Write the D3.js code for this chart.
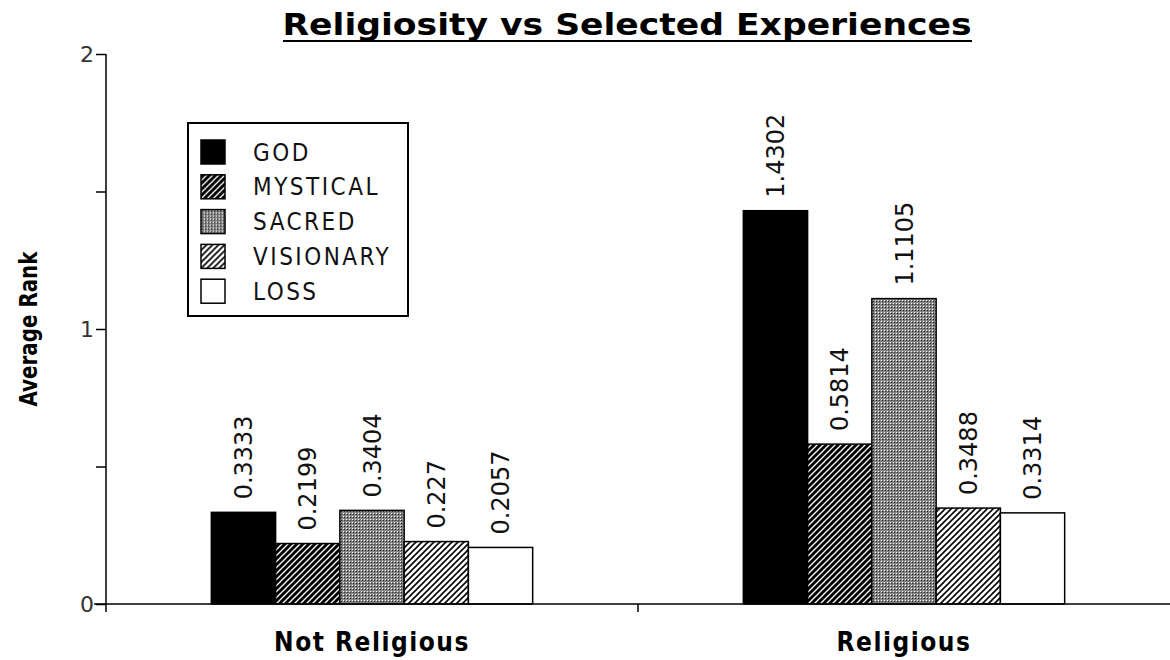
<!DOCTYPE html>
<html>
<head>
<meta charset="utf-8">
<script src="https://cdn.jsdelivr.net/npm/d3@7"></script>
<style>
  html, body { margin: 0; padding: 0; background: #fff; }
  svg { display: block; font-family: "DejaVu Sans", sans-serif; }
  .cond { font-family: "DejaVu Sans Condensed", "DejaVu Sans", sans-serif; font-stretch: condensed; }
</style>
</head>
<body>
<div id="chart"></div>
<script>
// chart data
const groups = ['Not Religious', 'Religious'];
const experiences = ['GOD', 'MYSTICAL', 'SACRED', 'VISIONARY', 'LOSS'];
const notReligious = [0.3333, 0.2199, 0.3404, 0.227, 0.2057];
const religious = [1.4302, 0.5814, 1.1105, 0.3488, 0.3314];
const yTicks = [0, 0.5, 1, 1.5, 2];
const yLabels = [0, 1, 2];

const seriesByGroup = { 'Not Religious': notReligious, 'Religious': religious };

const width = 1170, height = 660;
const svg = d3.select('#chart').append('svg')
    .attr('width', width)
    .attr('height', height);

// fill patterns, roughly like the old mac ones
const defs = svg.append('defs');

const pMyst = defs.append('pattern')
    .attr('id', 'pat-mystical')
    .attr('patternUnits', 'userSpaceOnUse')
    .attr('width', 6).attr('height', 6);
pMyst.append('rect').attr('width', 6).attr('height', 6).attr('fill', '#000');
pMyst.append('path').attr('d', 'M-1,7 L7,-1 M-4,4 L4,-4 M2,10 L10,2')
    .attr('stroke', '#fff').attr('stroke-width', 1.3);

const pSac = defs.append('pattern')
    .attr('id', 'pat-sacred')
    .attr('patternUnits', 'userSpaceOnUse')
    .attr('width', 3).attr('height', 3);
pSac.append('rect').attr('width', 3).attr('height', 3).attr('fill', '#858585');
pSac.append('rect').attr('x', 0).attr('y', 0).attr('width', 1).attr('height', 1).attr('fill', '#fff');
pSac.append('rect').attr('x', 1).attr('y', 1).attr('width', 1).attr('height', 1).attr('fill', '#222');

const pVis = defs.append('pattern')
    .attr('id', 'pat-visionary')
    .attr('patternUnits', 'userSpaceOnUse')
    .attr('width', 6).attr('height', 6);
pVis.append('rect').attr('width', 6).attr('height', 6).attr('fill', '#fff');
pVis.append('path').attr('d', 'M-1,7 L7,-1 M-4,4 L4,-4 M2,10 L10,2')
    .attr('stroke', '#000').attr('stroke-width', 1.6);

const fills = {
    GOD: '#000',
    MYSTICAL: 'url(#pat-mystical)',
    SACRED: 'url(#pat-sacred)',
    VISIONARY: 'url(#pat-visionary)',
    LOSS: '#fff'
};

// scales
const x0 = d3.scaleBand().domain(groups).range([106, 1170]).padding(0);
const bw = x0.bandwidth();
const x1 = d3.scaleBand().domain(experiences).range([bw * 0.198, bw * 0.802]).padding(0);
const y = d3.scaleLinear().domain([0, 2]).range([604, 54]);

// title
svg.append('text')
    .attr('x', 627)
    .attr('y', 35)
    .attr('text-anchor', 'middle')
    .style('font-size', '31px')
    .attr('font-weight', 'bold')
    .attr('textLength', 689)
    .attr('lengthAdjust', 'spacingAndGlyphs')
    .text('Religiosity vs Selected Experiences');
svg.append('line')
    .attr('x1', 283).attr('x2', 972)
    .attr('y1', 41).attr('y2', 41)
    .attr('stroke', '#000').attr('stroke-width', 2);

// bars
const gBars = svg.append('g');
const groupSel = gBars.selectAll('g')
    .data(groups)
    .enter().append('g')
    .attr('transform', d => `translate(${x0(d)},0)`);

const barData = g => experiences.map((k, i) => ({ key: k, value: seriesByGroup[g][i] }));

groupSel.selectAll('rect')
    .data(barData)
    .enter().append('rect')
    .attr('x', d => x1(d.key))
    .attr('y', d => y(d.value))
    .attr('width', x1.bandwidth())
    .attr('height', d => y(0) - y(d.value))
    .attr('fill', d => fills[d.key])
    .attr('stroke', '#000')
    .attr('stroke-width', 1.5);

groupSel.selectAll('text.val')
    .data(barData)
    .enter().append('text')
    .attr('class', 'val')
    .attr('transform', d => `translate(${x1(d.key) + x1.bandwidth() / 2},${y(d.value) - 13}) rotate(-90)`)
    .attr('dy', '0.36em')
    .style('font-size', '24px')
    .attr('fill', '#111')
    .text(d => String(d.value));

// y axis
const yAxis = d3.axisLeft(y)
    .tickValues(yTicks)
    .tickSize(10)
    .tickPadding(2)
    .tickFormat(d => yLabels.includes(d) ? d3.format('d')(d) : '');

const gy = svg.append('g')
    .attr('transform', 'translate(106,0)')
    .call(yAxis)
    .attr('font-size', 22)
    .attr('font-family', '"DejaVu Sans", sans-serif');
gy.select('.domain').remove();
gy.selectAll('.tick line').attr('stroke', '#000').attr('stroke-width', 1.5);
gy.selectAll('.tick text').attr('fill', '#333');
svg.append('line')
    .attr('x1', 106).attr('x2', 106)
    .attr('y1', y(2)).attr('y2', y(0) + 8)
    .attr('stroke', '#000').attr('stroke-width', 1.5);

// x axis
svg.append('line')
    .attr('x1', 94).attr('x2', 1170)
    .attr('y1', y(0)).attr('y2', y(0))
    .attr('stroke', '#000').attr('stroke-width', 1.5);
svg.append('line')
    .attr('x1', x0('Religious')).attr('x2', x0('Religious'))
    .attr('y1', y(0)).attr('y2', y(0) + 8)
    .attr('stroke', '#000').attr('stroke-width', 1.5);

svg.append('g').selectAll('text')
    .data(groups)
    .enter().append('text')
    .attr('class', 'cond')
    .attr('x', d => x0(d) + bw / 2)
    .attr('y', 651)
    .attr('text-anchor', 'middle')
    .attr('font-size', 26)
    .attr('font-weight', 'bold')
    .attr('letter-spacing', 1.5)
    .text(d => d);

// y title
svg.append('text')
    .attr('class', 'cond')
    .attr('transform', 'translate(37,329) rotate(-90)')
    .attr('text-anchor', 'middle')
    .attr('font-size', 24)
    .attr('font-weight', 'bold')
    .attr('textLength', 155)
    .attr('lengthAdjust', 'spacingAndGlyphs')
    .text('Average Rank');

// legend
const lg = svg.append('g').attr('transform', 'translate(188,123)');
lg.append('rect')
    .attr('width', 220).attr('height', 193)
    .attr('fill', '#fff')
    .attr('stroke', '#000').attr('stroke-width', 2);
const rows = lg.selectAll('g.row')
    .data(experiences)
    .enter().append('g')
    .attr('class', 'row')
    .attr('transform', (d, i) => `translate(13,${17 + i * 34.8})`);
rows.append('rect')
    .attr('width', 24).attr('height', 24)
    .attr('fill', d => fills[d])
    .attr('stroke', '#000').attr('stroke-width', 1.5);
rows.append('text')
    .attr('class', 'cond')
    .attr('x', 52)
    .attr('y', 12)
    .attr('dy', '0.36em')
    .attr('font-size', 24)
    .attr('letter-spacing', 2.5)
    .attr('fill', '#111')
    .text(d => d);
</script>
</body>
</html>
